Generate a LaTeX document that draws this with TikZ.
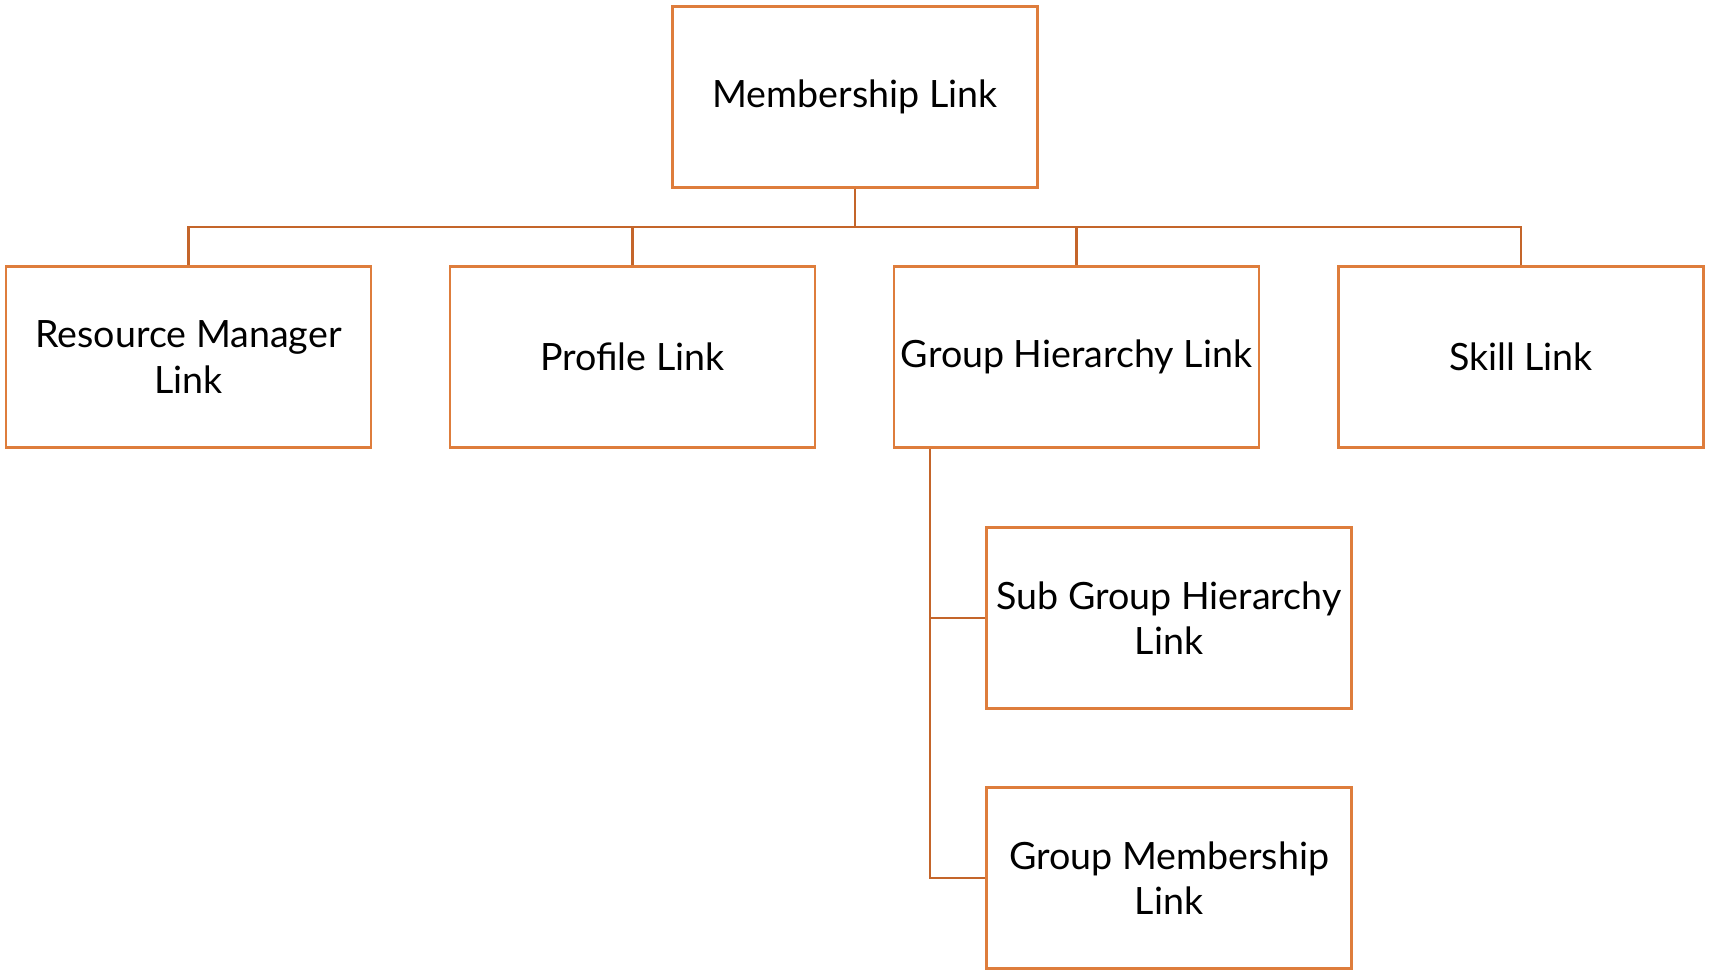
\documentclass[tikz,border=0pt]{standalone}
\usepackage{fontspec}
\setmainfont{Lato}
\definecolor{boxorange}{RGB}{222,125,60}
\definecolor{lineorange}{RGB}{196,101,42}
\begin{document}
\begin{tikzpicture}[x=0.02cm,y=-0.02cm]
      \tikzset{
        linkbox/.style={draw=boxorange,line width=1.6pt,minimum width=7.3cm,minimum height=3.62cm,
          align=center,font=\fontsize{21.4}{26}\selectfont,inner sep=0pt},
        tie/.style={draw=lineorange,line width=1.6pt}
      }
      \useasboundingbox (0,0) rectangle (1709,976);
      % boxes
      \node[linkbox] (top) at (855,97) {Membership Link};
      \node[linkbox] (rm) at (188.5,357) {Resource Manager\\Link};
      \node[linkbox] (prof) at (632.5,357) {Profile Link};
      \node[linkbox] (gh) at (1076.5,357) {Group Hierarchy Link};
      \node[linkbox] (skill) at (1521,357) {Skill Link};
      \node[linkbox] (sub) at (1169,618) {Sub Group Hierarchy\\Link};
      \node[linkbox] (gm) at (1169,878) {Group Membership\\Link};
      \coordinate (bus) at (0,227);
      \coordinate (trunk) at (930,448);
      % connectors
      \foreach \n in {rm,prof,gh,skill}
        \draw[tie] (top.south) -- (top.south |- bus) -| (\n.north);
      \draw[tie] (gh.south -| trunk) |- (sub.west);
      \draw[tie] (gh.south -| trunk) |- (gm.west);
    \end{tikzpicture}
\end{document}
